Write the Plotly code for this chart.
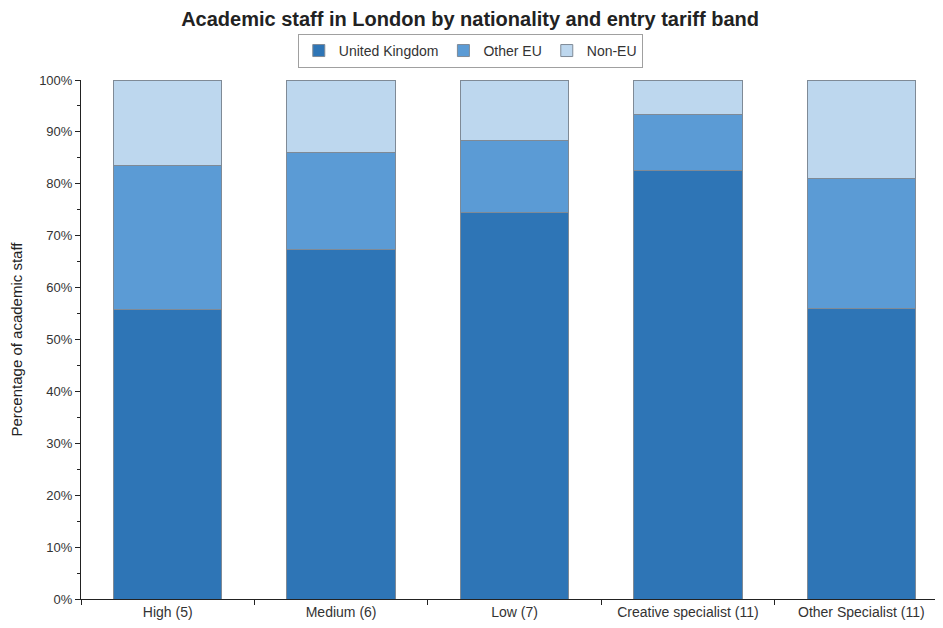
import plotly.graph_objects as go

categories = ["High (5)", "Medium (6)", "Low (7)", "Creative specialist (11)", "Other Specialist (11)"]
uk = [55.8, 67.3, 74.5, 82.5, 55.9]
other_eu = [27.8, 18.8, 13.9, 10.9, 25.2]
non_eu = [16.4, 13.9, 11.6, 6.6, 18.9]
y_ticks = [0, 10, 20, 30, 40, 50, 60, 70, 80, 90, 100]

series = [
    ("United Kingdom", uk, "#2E75B6"),
    ("Other EU", other_eu, "#5B9BD5"),
    ("Non-EU", non_eu, "#BDD7EE"),
]

fig = go.Figure()
for name, vals, col in series:
    fig.add_trace(go.Bar(
        x=categories, y=vals, name=name,
        marker=dict(color=col, line=dict(color="#7F8A96", width=1)),
        width=0.625,
    ))

fig.update_layout(
    barmode="stack",
    width=943, height=628,
    margin=dict(l=73, r=3, t=72, b=37),
    paper_bgcolor="white", plot_bgcolor="white",
    font=dict(family="Liberation Sans, Arial", size=13, color="#333333"),
    title=dict(text="<b>Academic staff in London by nationality and entry tariff band</b>",
               x=0.49, xref="container", xanchor="center", y=0.993, yanchor="top",
               font=dict(size=20, color="#222222")),
    legend=dict(orientation="h", x=0.449, xanchor="center", y=1.056, yanchor="middle",
                bordercolor="#A0A0A0", borderwidth=1, font=dict(size=14, color="#333333"),
                itemwidth=30, traceorder="normal", tracegroupgap=0),
    showlegend=True,
)
fig.update_xaxes(
    range=[-0.5, 4.5], showline=True, linecolor="#222222", linewidth=1,
    ticks="outside", tickson="boundaries", ticklen=5, tickcolor="#222222",
    showgrid=False, tickfont=dict(size=14, color="#333333"),
)
fig.update_yaxes(
    range=[0, 100], tickvals=y_ticks,
    ticktext=[f"{v}%" for v in y_ticks],
    showline=True, linecolor="#222222", linewidth=1,
    ticks="outside", ticklen=5, tickcolor="#222222",
    minor=dict(dtick=5, ticks="outside", ticklen=3, tickcolor="#222222", showgrid=False),
    showgrid=False, zeroline=False,
    title=dict(text="Percentage of academic staff", font=dict(size=15, color="#222222"), standoff=12),
    tickfont=dict(size=13, color="#333333"),
)

fig.write_html("out.html")
